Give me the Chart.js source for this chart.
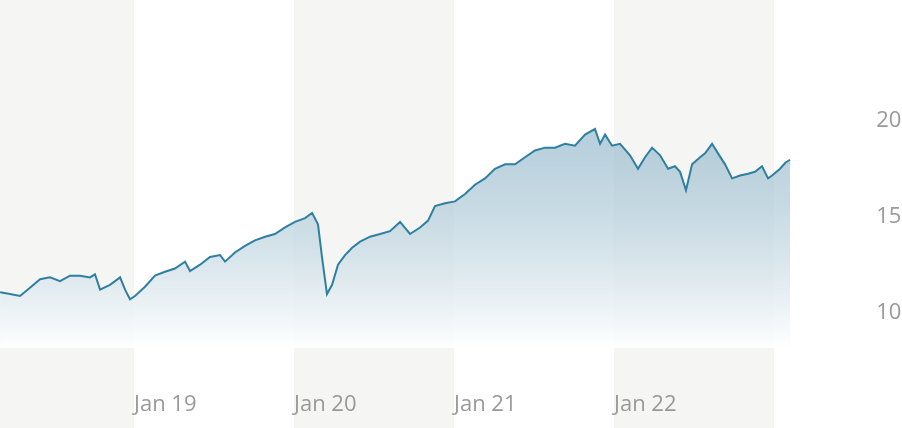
<!DOCTYPE html>
<html>
<head>
<meta charset="utf-8">
<script src="https://cdn.jsdelivr.net/npm/chart.js@4"></script>
<style>
  html, body { margin: 0; padding: 0; background: #fff; }
  #wrap { width: 902px; height: 428px; }
</style>
</head>
<body>
<div id="wrap"><canvas id="priceChart"></canvas></div>
<script>
// time in decimal years, index values
const times = [2018.163, 2018.225, 2018.288, 2018.35, 2018.413, 2018.475, 2018.538, 2018.6, 2018.663, 2018.725,
  2018.756, 2018.788, 2018.85, 2018.913, 2018.944, 2018.975, 2019.006, 2019.069, 2019.131, 2019.194,
  2019.256, 2019.319, 2019.35, 2019.413, 2019.475, 2019.538, 2019.569, 2019.631, 2019.694, 2019.756,
  2019.819, 2019.881, 2019.944, 2020.006, 2020.069, 2020.113, 2020.15, 2020.175, 2020.206, 2020.238,
  2020.275, 2020.319, 2020.363, 2020.413, 2020.475, 2020.538, 2020.6, 2020.663, 2020.725, 2020.788,
  2020.838, 2020.881, 2020.944, 2021.006, 2021.069, 2021.131, 2021.194, 2021.256, 2021.319, 2021.381,
  2021.444, 2021.506, 2021.569, 2021.631, 2021.694, 2021.756, 2021.819, 2021.881, 2021.913, 2021.944,
  2021.988, 2022.038, 2022.1, 2022.15, 2022.194, 2022.238, 2022.288, 2022.338, 2022.381, 2022.413,
  2022.45, 2022.488, 2022.538, 2022.569, 2022.613, 2022.65, 2022.694, 2022.738, 2022.788, 2022.838,
  2022.881, 2022.925, 2022.963, 2022.988, 2023.038, 2023.069, 2023.1];
const values = [110.6, 109.7, 108.7, 113, 117.4, 118.4, 116.4, 119.3, 119.3, 118.4,
  120, 112, 114.5, 118.4, 112, 107, 108.7, 113.5, 119.3, 121.3,
  123, 126.6, 121.7, 125, 129, 130, 126.6, 131.4, 134.8, 137.7,
  139.6, 141, 144.4, 147.3, 149.3, 152, 146, 129, 109.7, 114.5,
  125, 130, 133.8, 137, 139.6, 141, 142.5, 147.3, 141, 144.4,
  148, 155.6, 157, 158, 161.8, 166.7, 170, 175, 177.3, 177.3,
  181, 184.5, 186, 186, 188, 187, 192.8, 195.7, 188, 192.8,
  187, 188, 182, 175, 181, 186, 182, 175, 176.3, 173.4,
  163.8, 177.3, 181, 183, 188, 183, 177.3, 170, 171.5, 172.4,
  173.4, 176.3, 170, 171.5, 175, 178, 179.7];

const yTicks = [100, 150, 200];
const xTicks = [2019, 2020, 2021, 2022];
const xTickLabels = ['Jan 19', 'Jan 20', 'Jan 21', 'Jan 22'];
// shaded year columns (start, end)
const bandStarts = [2018.1625, 2020, 2022];
const bandEnds = [2019, 2021, 2023];

const points = times.map((t, i) => ({ x: t, y: values[i] }));

const bandPlugin = {
  id: 'bands',
  beforeDraw(chart) {
    const ctx = chart.ctx;
    const xs = chart.scales.x;
    ctx.save();
    ctx.fillStyle = '#f5f5f3';
    for (let i = 0; i < bandStarts.length; i++) {
      const a = xs.getPixelForValue(bandStarts[i]);
      const b = xs.getPixelForValue(bandEnds[i]);
      ctx.fillRect(a, 0, b - a, chart.height);
    }
    ctx.restore();
  }
};

const ctx = document.getElementById('priceChart').getContext('2d');
new Chart(ctx, {
  type: 'line',
  data: {
    datasets: [{
      data: points,
      borderColor: '#2f7fa0',
      borderWidth: 2,
      pointRadius: 0,
      tension: 0,
      fill: 'start',
      backgroundColor: function (c) {
        const area = c.chart.chartArea;
        if (!area) return 'rgba(120,168,190,0.5)';
        const g = c.chart.ctx.createLinearGradient(0, 100, 0, area.bottom);
        g.addColorStop(0, 'rgba(125,170,192,0.6)');
        g.addColorStop(1, 'rgba(255,255,255,0.95)');
        return g;
      }
    }]
  },
  options: {
    responsive: true,
    maintainAspectRatio: false,
    animation: false,
    layout: { padding: 0, autoPadding: false },
    plugins: { legend: { display: false }, tooltip: { enabled: false } },
    scales: {
      x: {
        type: 'linear',
        min: 2018.1625,
        max: 2023.8,
        grid: { display: false },
        border: { display: false },
        afterFit(scale) { scale.height = 80; },
        afterBuildTicks(scale) { scale.ticks = xTicks.map(v => ({ value: v })); },
        ticks: {
          align: 'start',
          padding: 36,
          color: '#999',
          font: { family: 'Open Sans', size: 22 },
          callback: (v) => xTickLabels[xTicks.indexOf(v)]
        }
      },
      y: {
        position: 'right',
        min: 81.6,
        max: 249.8,
        grid: { display: false },
        border: { display: false },
        afterFit(scale) { scale.width = 0; },
        afterBuildTicks(scale) { scale.ticks = yTicks.map(v => ({ value: v })); },
        ticks: {
          mirror: true,
          padding: 12,
          color: '#999',
          font: { family: 'Open Sans', size: 22 }
        }
      }
    }
  },
  plugins: [bandPlugin]
});
</script>
</body>
</html>
